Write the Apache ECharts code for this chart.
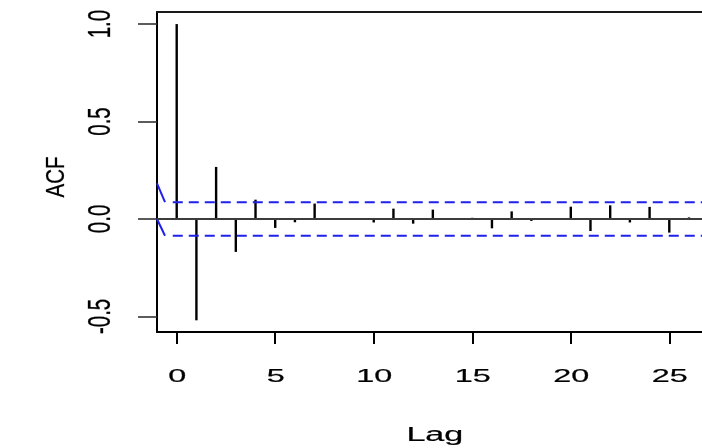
<!DOCTYPE html>
<html>
<head>
<meta charset="utf-8">
<title>ACF</title>
<script src="https://cdn.jsdelivr.net/npm/echarts@6/dist/echarts.min.js"></script>
<style>
  html, body { margin: 0; padding: 0; background: #ffffff; }
  #chart { width: 702px; height: 448px; }
</style>
</head>
<body>
<div id="chart"></div>
<script>
// Autocorrelation by lag
const lags = [0, 1, 2, 3, 4, 5, 6, 7, 8, 9, 10, 11, 12, 13, 14, 15, 16, 17, 18, 19, 20, 21, 22, 23, 24, 25, 26];
const acf = [1.0, -0.52, 0.267, -0.169, 0.099, -0.046, -0.017, 0.079, 0.002, -0.002,
             -0.018, 0.053, -0.024, 0.048, 0.001, 0.006, -0.048, 0.039, -0.010, 0.001,
             0.063, -0.062, 0.070, -0.018, 0.062, -0.070, 0.008];

// Significance band (+/-) and its entry ramps at the left border
const ciLevel = 0.086;
const rampStartLag = -1.0;
const rampEndLag = -0.594;
const dashStartLag = -0.2;
const rampUpperStart = 0.183;
const rampLowerStart = 0.0;

// Axis ticks and labels
const xTicks = [0, 5, 10, 15, 20, 25];
const xTickLabels = ['0', '5', '10', '15', '20', '25'];
const yTicks = [-0.5, 0, 0.5, 1.0];
const yTickLabels = ['-0.5', '0.0', '0.5', '1.0'];
const xRange = [-1.0, 26.66];
const yRange = [-0.58, 1.062];
const xTitle = 'Lag';
const yTitle = 'ACF';

const FONT = '"Liberation Sans", Arial, Helvetica, sans-serif';

const chart = echarts.init(document.getElementById('chart'), null, { renderer: 'canvas' });

const spikeData = lags.map((l, i) => [l, acf[i]]);

chart.setOption({
  animation: false,
  backgroundColor: '#ffffff',
  grid: { left: 157, top: 12, right: 0, bottom: 116, containLabel: false, outerBoundsMode: 'none' },
  xAxis: [
    {
      type: 'value', position: 'bottom', min: xRange[0], max: xRange[1],
      axisLine: { show: true, onZero: false, lineStyle: { color: '#000000', width: 2 } },
      axisTick: { show: true, customValues: xTicks, length: 12, lineStyle: { color: '#000000', width: 2 } },
      axisLabel: { show: false },
      splitLine: { show: false }
    },
    {
      type: 'value', position: 'top', min: xRange[0], max: xRange[1],
      axisLine: { show: true, onZero: false, lineStyle: { color: '#1a1a1a', width: 2 } },
      axisTick: { show: false }, axisLabel: { show: false }, splitLine: { show: false }
    }
  ],
  yAxis: {
    type: 'value', min: yRange[0], max: yRange[1],
    axisLine: { show: true, onZero: false, lineStyle: { color: '#000000', width: 2 } },
    axisTick: { show: true, customValues: yTicks, length: 19, lineStyle: { color: '#333333', width: 1.6 } },
    axisLabel: { show: false },
    splitLine: { show: false }
  },
  series: [
    {
      name: 'ACF', type: 'bar', xAxisIndex: 0, data: spikeData, barWidth: 2.4,
      itemStyle: { color: '#000000' }, z: 3,
      markLine: {
        silent: true, symbol: 'none', label: { show: false },
        lineStyle: { color: '#3c3c3c', width: 2, type: 'solid' },
        data: [{ yAxis: 0 }]
      }
    },
    {
      name: 'upper', type: 'line', xAxisIndex: 0, symbol: 'none', silent: true,
      data: [[dashStartLag, ciLevel], [xRange[1], ciLevel]],
      lineStyle: { color: '#1f1fee', width: 2, type: [10, 6] }, z: 4
    },
    {
      name: 'lower', type: 'line', xAxisIndex: 0, symbol: 'none', silent: true,
      data: [[dashStartLag, -ciLevel], [xRange[1], -ciLevel]],
      lineStyle: { color: '#1f1fee', width: 2, type: [10, 6] }, z: 4
    },
    {
      name: 'upperRamp', type: 'line', xAxisIndex: 0, symbol: 'none', silent: true,
      data: [[rampStartLag, rampUpperStart], [rampEndLag, ciLevel]],
      lineStyle: { color: '#1f1fee', width: 2 }, z: 4
    },
    {
      name: 'lowerRamp', type: 'line', xAxisIndex: 0, symbol: 'none', silent: true,
      data: [[rampStartLag, rampLowerStart], [rampEndLag, -ciLevel]],
      lineStyle: { color: '#1f1fee', width: 2 }, z: 4
    }
  ]
});

// Tick labels and axis titles, placed through the axis scales
const px = (x, y) => chart.convertToPixel({ xAxisIndex: 0, yAxisIndex: 0 }, [x, y]);
const gridBottom = px(0, yRange[0])[1];
const gridLeft = px(xRange[0], 0)[0];
const gridTop = px(0, yRange[1])[1];

const textStyle = (text, size) => ({
  text: text, font: size + 'px ' + FONT, fill: '#000000',
  stroke: '#000000', lineWidth: 0.2,
  textAlign: 'center', textVerticalAlign: 'middle'
});

const elements = [];
xTicks.forEach((t, i) => {
  elements.push({
    type: 'text', x: px(t, 0)[0] + 0.5, y: gridBottom + 45, scaleX: 1.75, scaleY: 1,
    style: textStyle(xTickLabels[i], 18.5)
  });
});
yTicks.forEach((t, i) => {
  elements.push({
    type: 'text', x: gridLeft - 56, y: px(0, t)[1], rotation: Math.PI / 2, scaleX: 1, scaleY: 1.55,
    style: textStyle(yTickLabels[i], 20.5)
  });
});
elements.push({
  type: 'text', x: px(13, 0)[0] + 2, y: gridBottom + 104, scaleX: 1.75, scaleY: 1,
  style: textStyle(xTitle, 19.5)
});
elements.push({
  type: 'text', x: gridLeft - 100, y: (gridTop + gridBottom) / 2 + 5, rotation: Math.PI / 2, scaleX: 1, scaleY: 1.3,
  style: textStyle(yTitle, 20.5)
});

chart.setOption({ graphic: { elements: elements } });
</script>
</body>
</html>
